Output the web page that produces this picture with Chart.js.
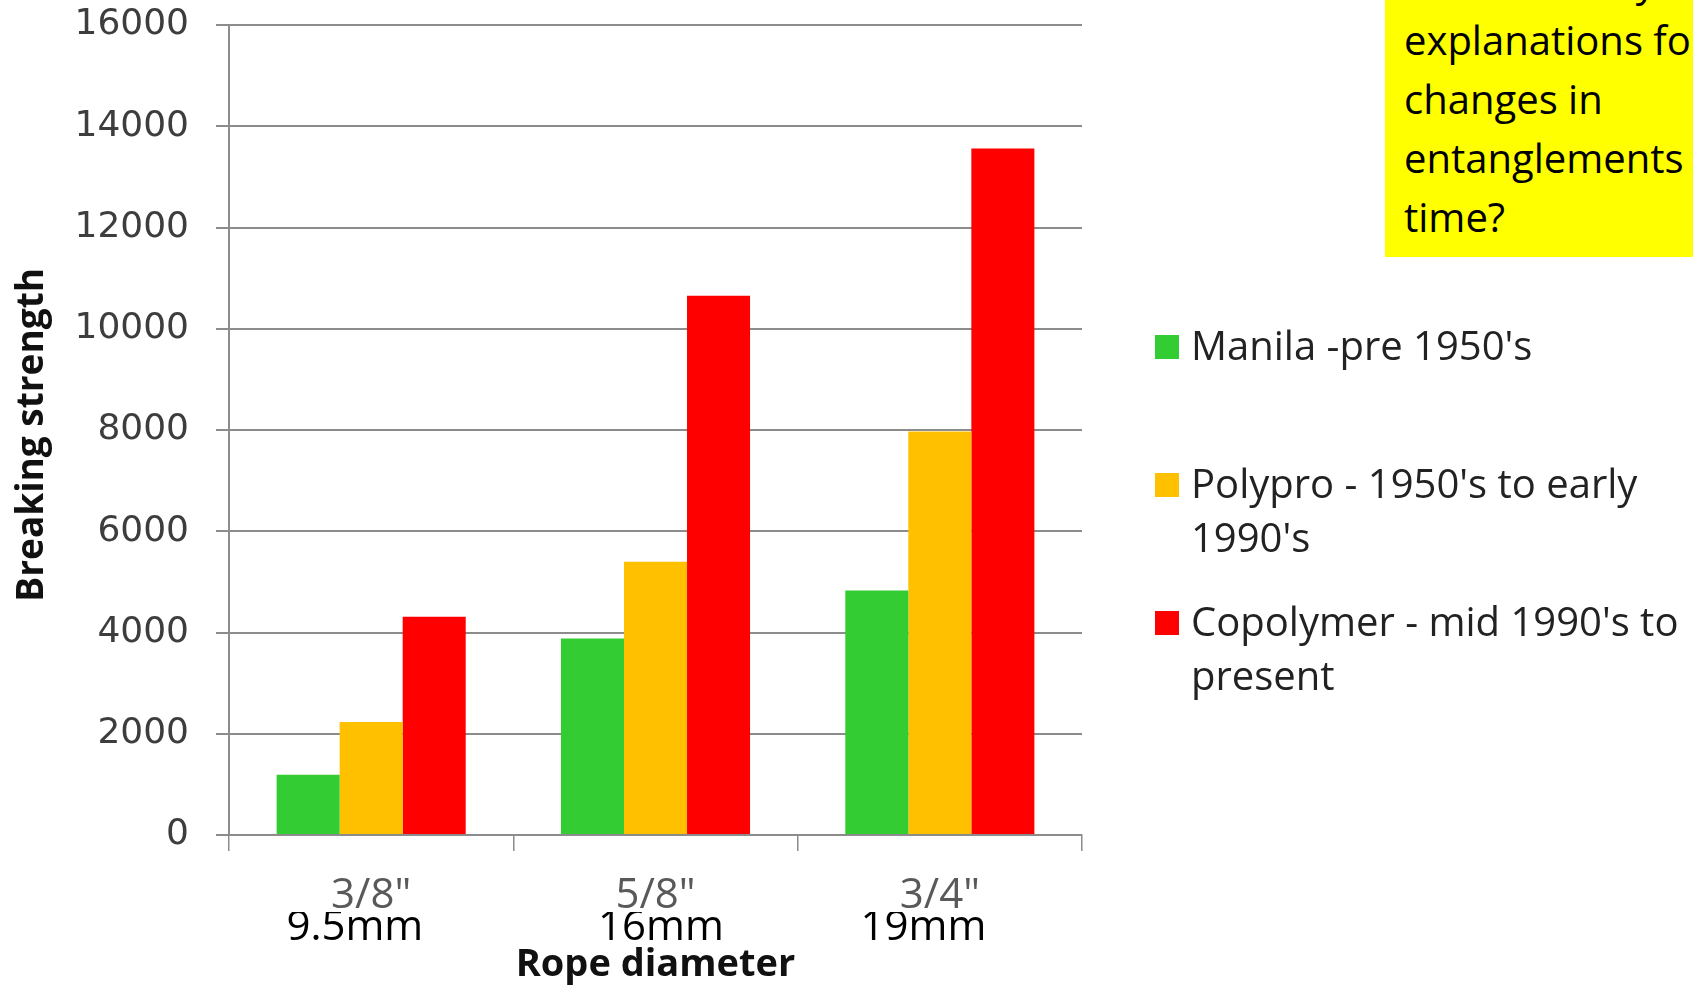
<!DOCTYPE html>
<html>
<head>
<meta charset="utf-8">
<script src="https://cdn.jsdelivr.net/npm/chart.js@4.4.1/dist/chart.umd.min.js"></script>
<style>
  html, body { margin: 0; padding: 0; background: #ffffff; overflow: hidden; }
  #wrap { position: relative; width: 1693px; height: 986px; }
  #chart { position: absolute; left: 0; top: 0; }
  #note {
    position: absolute; left: 1385px; top: -60px; width: 400px; height: 317px;
    background: #ffff00; box-sizing: border-box; padding: 11px 0 0 19px;
    font-family: 'Open Sans', sans-serif; font-size: 40px; line-height: 59px;
    color: #000; white-space: nowrap;
  }
  .legend-item {
    position: absolute; left: 1155px;
    font-family: 'Open Sans', sans-serif; font-size: 40px; line-height: 54px;
    color: #222; white-space: nowrap;
  }
  .legend-item .swatch {
    position: absolute; left: 0; top: 17px; width: 24px; height: 24px;
  }
  .legend-item .text { margin-left: 36px; }
</style>
</head>
<body>
<div id="wrap">
  <canvas id="chart" width="1693" height="986"></canvas>
  <div id="legend"></div>
  <div id="note">Are there any<br>explanations for<br>changes in<br>entanglements over<br>time?</div>
</div>
<script>
// Rope sizes (imperial / metric) on the category axis
const ropeSizes = ['3/8"', '5/8"', '3/4"'];
const ropeMetric = ['9.5mm   ', ' 16mm', '19mm   '];

// Breaking strength per rope material
const manila = [1190, 3880, 4830];
const polypro = [2230, 5400, 7970];
const copolymer = [4310, 10650, 13560];

// Legend text, one entry per line
const manilaName = ["Manila -pre 1950's"];
const polyproName = ["Polypro - 1950's to early", "1990's"];
const copolymerName = ["Copolymer - mid 1990's to", "present"];

// Value axis ticks
const yTicks = [0, 2000, 4000, 6000, 8000, 10000, 12000, 14000, 16000];

const series = [
  { name: manilaName, values: manila, color: '#33cc33' },
  { name: polyproName, values: polypro, color: '#ffc000' },
  { name: copolymerName, values: copolymer, color: '#ff0000' }
];

const gridColor = '#8c8c8c';

const chart = new Chart(document.getElementById('chart'), {
  type: 'bar',
  data: {
    labels: ropeSizes,
    datasets: series.map(s => ({
      label: s.name.join(' '),
      data: s.values,
      backgroundColor: s.color,
      borderWidth: 0,
      categoryPercentage: 0.665,
      barPercentage: 1.0
    }))
  },
  options: {
    responsive: false,
    animation: false,
    layout: { padding: { left: 0, right: 611, top: 25, bottom: 4 } },
    plugins: { legend: { display: false }, tooltip: { enabled: false } },
    scales: {
      y: {
        min: 0,
        max: 16000,
        afterBuildTicks: axis => { axis.ticks = yTicks.map(v => ({ value: v })); },
        afterFit: axis => { axis.width = 229; axis.paddingTop = 0; axis.paddingBottom = 0; },
        grid: { color: gridColor, lineWidth: 2, tickLength: 13, drawTicks: true },
        border: { color: gridColor, width: 2 },
        ticks: {
          padding: 27,
          color: '#3d3d3d',
          callback: v => String(v),
          font: { family: "'DejaVu Sans', sans-serif", size: 36 }
        },
        title: {
          display: true,
          text: 'Breaking strength ',
          color: '#111',
          padding: { top: 10, bottom: 0 },
          font: { family: "'Open Sans', sans-serif", size: 37, weight: 'bold', lineHeight: 1.2 }
        }
      },
      x: {
        position: 'bottom',
        weight: 0,
        afterFit: axis => { axis.height = 77; axis.paddingLeft = 0; axis.paddingRight = 0; },
        grid: { offset: true, drawOnChartArea: false, drawTicks: true, tickLength: 16, color: gridColor, lineWidth: 1.5 },
        border: { color: gridColor, width: 2 },
        ticks: {
          padding: 29,
          color: '#595959',
          maxRotation: 0,
          font: { family: "'Open Sans', sans-serif", size: 42, lineHeight: '32px' }
        }
      },
      x2: {
        type: 'category',
        position: 'bottom',
        weight: 1,
        labels: ropeMetric,
        offset: true,
        afterFit: axis => { axis.height = 70; axis.paddingLeft = 0; axis.paddingRight = 0; },
        grid: { display: false, drawTicks: false },
        border: { display: false },
        ticks: {
          padding: 0,
          color: '#000',
          maxRotation: 0,
          font: { family: "'Open Sans', sans-serif", size: 42, lineHeight: '32px' }
        },
        title: {
          display: true,
          text: 'Rope diameter',
          color: '#111',
          padding: { top: 4, bottom: 0 },
          font: { family: "'Open Sans', sans-serif", size: 38, weight: 'bold', lineHeight: '34px' }
        }
      }
    }
  }
});

// Legend to the right of the plot, built from the chart's datasets
const legendTops = [318, 456, 594];
const legend = document.getElementById('legend');
chart.data.datasets.forEach((ds, i) => {
  const item = document.createElement('div');
  item.className = 'legend-item';
  item.style.top = legendTops[i] + 'px';
  const sw = document.createElement('div');
  sw.className = 'swatch';
  sw.style.background = ds.backgroundColor;
  const tx = document.createElement('div');
  tx.className = 'text';
  tx.innerHTML = series[i].name.join('<br>');
  item.appendChild(sw);
  item.appendChild(tx);
  legend.appendChild(item);
});
</script>
</body>
</html>
